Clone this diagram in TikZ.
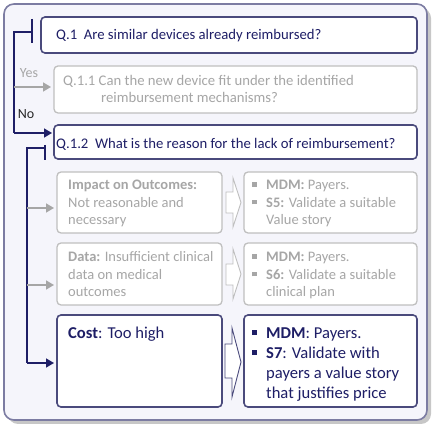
\documentclass[tikz,border=0pt]{standalone}
\usepackage{fontspec}
\setmainfont{Carlito}
\usetikzlibrary{arrows.meta}
\definecolor{navy}{HTML}{1E1E66}
\definecolor{navyline}{HTML}{4A4A7C}
\definecolor{greyline}{HTML}{BFBFBF}
\definecolor{greytext}{HTML}{A6A6A6}
\definecolor{framefill}{HTML}{F5F5FB}
\definecolor{frameline}{HTML}{7C7CA2}
\newcommand{\sqb}{\raisebox{0.22em}{\rule{0.3em}{0.3em}}}
\tikzset{
  x=1pt, y=-1pt,
  qbox/.style={draw=navyline, line width=1.6pt, rounded corners=4pt, fill=white},
  gbox/.style={draw=greyline, line width=1.3pt, rounded corners=4pt, fill=white},
  nbox/.style={draw=navyline, line width=1.6pt, rounded corners=4pt, fill=white},
  txt/.style={anchor=north west, inner sep=0pt, align=left},
  qtxt/.style={txt, text=navy, font=\fontsize{14.7}{17}\selectfont},
  q11txt/.style={txt, text=greytext, font=\fontsize{14.7}{17}\selectfont},
  gtxt/.style={txt, text=greytext, font=\fontsize{14.5}{17.5}\selectfont},
  ctxt/.style={txt, text=navy, font=\fontsize{16.6}{20}\selectfont},
  nline/.style={draw=navy, line width=1.6pt},
  gline/.style={draw=greytext, line width=1.6pt},
  narrow/.style={nline, -{Triangle[length=8pt,width=9pt]}},
  garrow/.style={gline, -{Triangle[length=8pt,width=9pt]}},
  blockg/.style={draw=greyline, line width=0.9pt, fill=white},
  blockn/.style={draw=navyline, line width=0.9pt, fill=white},
}
\begin{document}
\begin{tikzpicture}
\useasboundingbox (0,0) rectangle (442,435);
% frame with shadow
\fill[black!22, rounded corners=10pt] (8,8) rectangle (431,424);
\draw[frameline, fill=framefill, line width=1.6pt, rounded corners=10pt] (4,4) rectangle (427,420);

% boxes
\draw[qbox] (41,17) rectangle (417,53);
\draw[gbox] (54,66) rectangle (417,113);
\draw[qbox] (54,125) rectangle (417,159);
\coordinate (q11w) at (54,87);
\coordinate (q12w) at (54,133);

\draw[gbox] (57,172) rectangle (222,233);
\draw[gbox] (244,172) rectangle (417,233);
\draw[gbox] (57,243) rectangle (222,305);
\draw[gbox] (244,243) rectangle (417,305);
\draw[nbox] (57,315) rectangle (222,407);
\draw[nbox] (244,315) rectangle (417,407);
\coordinate (impw) at (57,208);
\coordinate (dataw) at (57,285);
\coordinate (costw) at (57,363);

% texts
\node[qtxt] (t1) at (56,27) {\strut Q.1\ \ Are similar devices already reimbursed?};
\node[q11txt] (t11a) at (63,73) {\strut Q.1.1\ Can the new device fit under the identified};
\node[q11txt] (t11b) at (101,90) {\strut reimbursement mechanisms?};
\node[qtxt] (t12) at (56,136) {\strut Q.1.2\ \ What is the reason for the lack of reimbursement?};

\node[gtxt] (imp) at (68,177.5) {\strut\textbf{Impact on Outcomes:}\\Not reasonable and\\necessary};
\node[gtxt] (impr) at (252,177.5) {\strut\makebox[14pt][l]{\sqb}\textbf{MDM:} Payers.\\\makebox[14pt][l]{\sqb}\textbf{S5:} Validate a suitable\\\hspace*{14pt}Value story};
\node[gtxt] (dat) at (68,249.5) {\strut\textbf{Data:} Insufficient clinical\\data on medical\\outcomes};
\node[gtxt] (datr) at (252,249.5) {\strut\makebox[14pt][l]{\sqb}\textbf{MDM:} Payers.\\\makebox[14pt][l]{\sqb}\textbf{S6:} Validate a suitable\\\hspace*{14pt}clinical plan};
\node[ctxt] (cost) at (68,324) {\strut\textbf{Cost}: Too high};
\node[ctxt] (costr) at (252,324) {\strut\makebox[14pt][l]{\sqb}\textbf{MDM}: Payers.\\\makebox[14pt][l]{\sqb}\textbf{S7}: Validate with\\\hspace*{14pt}payers a value story\\\hspace*{14pt}that justifies price};

\node[text=greytext, font=\fontsize{14}{16}\selectfont, inner sep=0pt] (yes) at (29,73) {Yes};
\node[text=black!85, font=\fontsize{14}{16}\selectfont, inner sep=0pt] (no) at (26,114) {No};

% brackets
\draw[nline] (32,19) -- (32,43);
\draw[nline] (32,32) -- (14,32) -- (14,133);
\draw[garrow] (14,87) -- ([xshift=-3pt]q11w);
\draw[narrow] (14,133) -- ([xshift=-2pt]q12w);

\draw[nline] (45,145) -- (45,160);
\draw[nline] (45,148) -- (27,148) -- (27,363);
\draw[garrow] (27,208) -- ([xshift=-3pt]impw);
\draw[garrow] (27,285) -- ([xshift=-3pt]dataw);
\draw[narrow] (27,363) -- ([xshift=-3pt]costw);

% block arrows
\draw[blockg] (226,192) -- (233,192) -- (233,178) -- (241,202.5) -- (233,227) -- (233,213) -- (226,213) -- cycle;
\draw[blockg] (226,264) -- (233,264) -- (233,249) -- (241,274) -- (233,299) -- (233,285) -- (226,285) -- cycle;
\draw[blockn] (225,344) -- (232,344) -- (232,328) -- (241,362) -- (232,397) -- (232,378) -- (225,378) -- cycle;
\end{tikzpicture}
\end{document}
